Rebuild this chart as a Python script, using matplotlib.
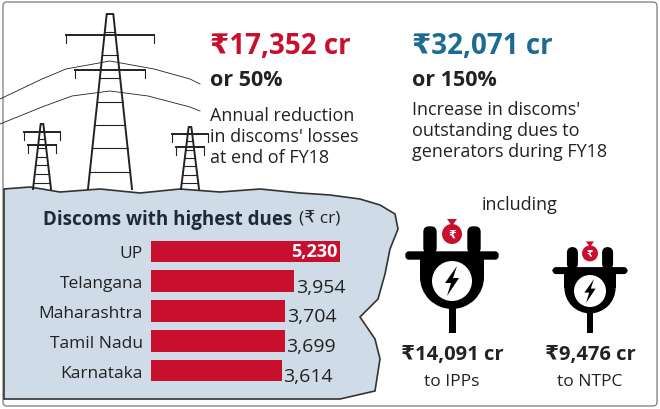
import numpy as np
import matplotlib.pyplot as plt
from matplotlib.patches import Polygon, Circle, FancyBboxPatch, Rectangle, Wedge

plt.rcParams["font.family"] = ["Open Sans", "DejaVu Sans"]

# data
states = ["UP", "Telangana", "Maharashtra", "Tamil Nadu", "Karnataka"]
dues = [5230, 3954, 3704, 3699, 3614]
dues_labels = ["5,230", "3,954", "3,704", "3,699", "3,614"]

RED = "#c8102e"
BLUE = "#1d6a93"
DARK = "#222222"
SKY = "#cfdce8"

fig = plt.figure(figsize=(6.6, 4.1), dpi=100)
bg = fig.add_axes([0, 0, 1, 1])
bg.set_xlim(0, 660)
bg.set_ylim(410, 0)
bg.axis("off")

# outer frame
bg.add_patch(FancyBboxPatch((3, 3), 654, 404, boxstyle="round,pad=0,rounding_size=4",
                            fc="white", ec="#888888", lw=1))

# light blue torn-paper region (decorative)
edge = [(4, 190), (30, 188), (60, 193), (100, 190), (140, 194), (180, 190), (220, 193),
        (260, 190), (300, 194), (330, 196), (360, 200), (380, 206), (395, 215),
        (398, 230), (390, 250), (385, 275), (378, 300), (360, 318), (375, 340),
        (380, 360), (375, 392), (340, 400), (4, 400)]
bg.add_patch(Polygon(edge, closed=True, fc=SKY, ec="#333333", lw=1.2, zorder=1))

# power towers (decorative line art)
def tower(cx, base, top, w):
    bg.plot([cx - w, cx - w * 0.15, cx + w * 0.15, cx + w], [base, top, top, base], color=DARK, lw=1.4)
    for frac in np.linspace(0.1, 0.9, 7):
        yy = base - (base - top) * frac
        hw = w - (w - w * 0.15) * frac
        bg.plot([cx - hw, cx + hw], [yy, yy], color=DARK, lw=0.8)
    for arm_y, arm_w in [(top + (base - top) * 0.12, w * 2.0), (top + (base - top) * 0.32, w * 1.6)]:
        bg.plot([cx - arm_w, cx + arm_w], [arm_y, arm_y], color=DARK, lw=1.4)
        bg.plot([cx - arm_w, cx - arm_w], [arm_y, arm_y + 8], color=DARK, lw=0.8)
        bg.plot([cx + arm_w, cx + arm_w], [arm_y, arm_y + 8], color=DARK, lw=0.8)

tower(110, 190, 15, 22)
tower(42, 190, 125, 9)
tower(190, 190, 128, 9)
bg.plot([0, 42, 66, 110, 154, 190, 200], [100, 80, 70, 62, 70, 80, 85], color=DARK, lw=0.6)
bg.plot([0, 42, 72, 110, 148, 190, 200], [125, 108, 97, 92, 97, 108, 112], color=DARK, lw=0.6)

# headline texts
bg.text(210, 47, "₹17,352 cr", color=RED, fontsize=20, fontweight="bold", va="center")
bg.text(210, 80, "or 50%", color=DARK, fontsize=15.5, fontweight="bold", va="center")
bg.text(210, 137, "Annual reduction\nin discoms' losses\nat end of FY18", color=DARK,
        fontsize=13, va="center", linespacing=1.2)
bg.text(412, 47, "₹32,071 cr", color=BLUE, fontsize=20, fontweight="bold", va="center")
bg.text(412, 80, "or 150%", color=DARK, fontsize=15.5, fontweight="bold", va="center")
bg.text(412, 131, "Increase in discoms'\noutstanding dues to\ngenerators during FY18",
        color=DARK, fontsize=13, va="center", linespacing=1.2)
bg.text(520, 205, "including", color=DARK, fontsize=13, ha="center", va="center")

# plugs
def plug(cx, cy, s):
    bg.add_patch(Rectangle((cx - 3.5 * s, cy + 10 * s), 7 * s, 42 * s, fc="black", zorder=3))
    bg.add_patch(Wedge((cx, cy - 4 * s), 32 * s, 0, 180, fc="black", zorder=3))
    bg.add_patch(Rectangle((cx - 32 * s, cy - 22 * s), 64 * s, 18 * s, fc="black", zorder=3))
    bg.add_patch(FancyBboxPatch((cx - 46 * s, cy - 29 * s), 92 * s, 7 * s,
                                boxstyle="round,pad=0,rounding_size=3", fc="black", zorder=3))
    for dx in (-22, 22):
        bg.add_patch(FancyBboxPatch((cx + (dx - 6) * s, cy - 54 * s), 12 * s, 26 * s,
                                    boxstyle="round,pad=0,rounding_size=5", fc="black", zorder=3))
    bg.add_patch(Circle((cx, cy - 47 * s), 10 * s, fc=RED, zorder=4))
    bg.add_patch(Polygon([(cx - 5 * s, cy - 62 * s), (cx + 5 * s, cy - 62 * s), (cx, cy - 55 * s)],
                         fc=RED, zorder=4))
    bg.text(cx, cy - 46 * s, "₹", color="white", fontsize=8 * s, ha="center", va="center",
            fontweight="bold", zorder=5)
    bg.add_patch(Circle((cx, cy), 20 * s, fc="white", zorder=4))
    bg.add_patch(Polygon([(cx + 5 * s, cy - 15 * s), (cx - 7 * s, cy + 2 * s), (cx - 1 * s, cy + 2 * s),
                          (cx - 5 * s, cy + 15 * s), (cx + 7 * s, cy - 3 * s), (cx + 1 * s, cy - 3 * s)],
                         fc="black", zorder=5))

plug(452, 282, 1.0)
plug(590, 292, 0.8)

bg.text(452, 355, "₹14,091 cr", color=DARK, fontsize=14.5, fontweight="bold", ha="center", va="center")
bg.text(452, 382, "to IPPs", color=DARK, fontsize=12.5, ha="center", va="center")
bg.text(590, 355, "₹9,476 cr", color=DARK, fontsize=14.5, fontweight="bold", ha="center", va="center")
bg.text(590, 382, "to NTPC", color=DARK, fontsize=12.5, ha="center", va="center")

# bar chart title
bg.text(43, 220, "Discoms with highest dues", color="#1f2a36", fontsize=13.5, fontweight="bold", va="center")
bg.text(299, 220, "(₹ cr)", color=DARK, fontsize=12.5, va="center")

# bar chart
ax = fig.add_axes([151 / 660, 1 - 388 / 410, 250 / 660, 152 / 410])
ax.set_xlim(0, 5230 * 250 / 189)
ax.set_ylim(4.55, -0.55)
y = np.arange(len(states))
ax.barh(y, dues, height=0.73, color=RED)
for i, (v, lab) in enumerate(zip(dues, dues_labels)):
    if i == 0:
        ax.text(v - 60, i, lab, color="white", fontsize=13, fontweight="bold", ha="right", va="center")
    else:
        ax.text(v + 50, i + 0.18, lab, color=DARK, fontsize=14, ha="left", va="center")
ax.set_yticks(y)
ax.set_yticklabels(states, fontsize=12.5, color=DARK)
ax.tick_params(axis="y", length=0, pad=6)
ax.set_xticks([])
for sp in ax.spines.values():
    sp.set_visible(False)
ax.patch.set_alpha(0)

fig.savefig("out.png", dpi=100)
